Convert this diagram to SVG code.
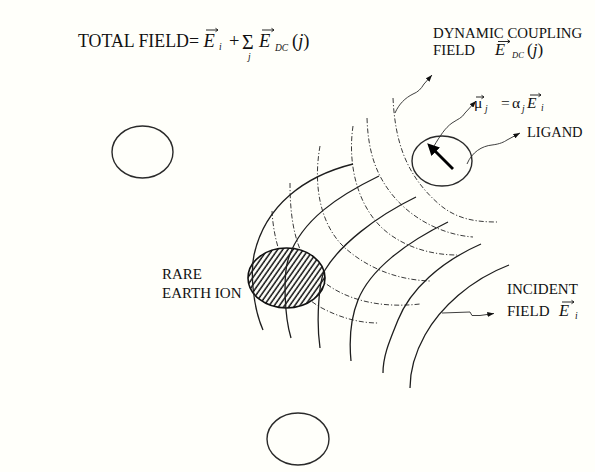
<svg xmlns="http://www.w3.org/2000/svg" width="595" height="472" viewBox="0 0 595 472">
<defs>
<style>
.bg{fill:#fffffa}
.t{font-family:"Liberation Serif","Times New Roman",serif;fill:#111}
.i{font-style:italic}
.solid{fill:none;stroke:#1e1e1e;stroke-width:1.3}
.dash{fill:none;stroke:#3a3a3a;stroke-width:1;stroke-dasharray:5 2 1.2 2}
.circ{fill:#fffffa;stroke:#2a2a2a;stroke-width:1.4}
.conn{fill:none;stroke:#2a2a2a;stroke-width:0.9}
.acc{fill:none;stroke:#111;stroke-width:0.9}
</style>
<marker id="ah" viewBox="0 0 8 6" refX="8" refY="3" markerWidth="7" markerHeight="5" markerUnits="userSpaceOnUse" orient="auto">
<path d="M0,0 L8,3 L0,6 z" fill="#111"/>
</marker>
<marker id="big" viewBox="0 0 10 10" refX="2" refY="5" markerWidth="12" markerHeight="12" markerUnits="userSpaceOnUse" orient="auto">
<path d="M0,0 L10,5 L0,10 z" fill="#000"/>
</marker>
<pattern id="hatch" patternUnits="userSpaceOnUse" width="4.2" height="10" patternTransform="rotate(35)">
<rect width="4.2" height="10" fill="#fffffa"/>
<line x1="1" y1="0" x2="1" y2="10" stroke="#111" stroke-width="1.5"/>
</pattern>
</defs>
<rect class="bg" x="0" y="0" width="595" height="472"/>

<g id="coupling-field">
<path class="dash" d="M393,98 C395,140 405,175 440,205 C457,219 475,222 497,222"/>
<path class="dash" d="M367,118 C368,150 375,175 395,198 C415,221 445,235 473,237"/>
<path class="dash" d="M353,126 C348,160 355,200 380,226 C400,246 430,255 457,255"/>
<path class="dash" d="M320,146 C313,185 320,225 345,248 C370,270 400,280 430,281"/>
<path class="dash" d="M290,183 C290,220 295,260 325,283 C350,302 385,308 420,304"/>
<path class="dash" d="M272,211 C274,250 290,290 320,307 C340,318 360,323 378,323"/>
</g>

<g id="node-rare-earth-ion">
<ellipse cx="286.5" cy="278" rx="38.5" ry="30" fill="url(#hatch)" stroke="#111" stroke-width="1.6"/>
</g>

<g id="incident-field">
<path class="solid" d="M353,164 C305,176 265,205 254,255 C250.7,270 252,305 263,330"/>
<path class="solid" d="M379,176 C340,195 300,220 288,260 C283.5,275 284,315 291,338"/>
<path class="solid" d="M416,197 C375,217 340,245 325,270 C319,280 316,320 320,348"/>
<path class="solid" d="M448,222 C405,243 370,270 358,300 C350,320 349,340 351,361"/>
<path class="solid" d="M481,244 C440,262 410,290 398,320 C390,340 383,355 383,373"/>
<path class="solid" d="M509,265 C470,280 440,308 425,335 C415,353 410,370 410,388"/>
</g>

<g id="node-ligand">
<ellipse class="circ" cx="442" cy="161" rx="30" ry="25"/>
<line x1="453" y1="169" x2="434" y2="150" stroke="#000" stroke-width="2.8" marker-end="url(#big)"/>
</g>

<g id="node-ion-left">
<ellipse class="circ" cx="142.5" cy="152" rx="30.5" ry="26"/>
</g>

<g id="node-ion-bottom">
<ellipse class="circ" cx="298" cy="439" rx="31" ry="26"/>
</g>

<g id="connectors">
<path class="conn" d="M442,313 L470,312 L472,315.5 L480,315.5 L494,313.5" marker-end="url(#ah)"/>
<path class="conn" d="M467,164 C472,152 482,146 492,145 C500,144 504,142 507,140 L520,133" marker-end="url(#ah)"/>
<path class="conn" d="M434,146 C440,136 445,128 452,123 C458,119 462,118 465,113 L476,101" marker-end="url(#ah)"/>
<path class="conn" d="M395,113 C399,104 405,98 413,94 C418,92 421,89 424,84 L432,75" marker-end="url(#ah)"/>
</g>

<g id="label-total">
<text class="t" font-size="18.5" x="78" y="47" textLength="121" lengthAdjust="spacingAndGlyphs">TOTAL FIELD=</text>
<text class="t" font-size="18.5" y="47"><tspan x="203.5" class="i">E</tspan><tspan x="219" y="50" font-size="9.5" class="i">i</tspan><tspan x="229" y="47">+</tspan><tspan x="242" y="49" font-size="20">Σ</tspan><tspan x="259" y="47" class="i">E</tspan><tspan x="275" y="51" font-size="9.5" class="i">DC</tspan><tspan x="292" y="47">(</tspan><tspan class="i">j</tspan><tspan>)</tspan></text>
<text class="t i" font-size="9.5" x="248" y="60">j</text>
</g>

<g id="label-dc">
<text class="t" font-size="14.8" x="433" y="38">DYNAMIC COUPLING</text>
<text class="t" font-size="14.8" y="55"><tspan x="433">FIELD</tspan><tspan x="495" class="i" font-size="16.5">E</tspan><tspan x="512" y="58" class="i" font-size="8.5">DC</tspan><tspan x="527" y="55" font-size="17">(</tspan><tspan class="i" font-size="17">j</tspan><tspan font-size="17">)</tspan></text>
</g>

<g id="label-mu">
<text class="t" font-size="15.5" y="108"><tspan x="474">μ</tspan><tspan x="485" y="112" class="i" font-size="9.5">j</tspan><tspan x="501" y="108">=</tspan><tspan x="512">α</tspan><tspan x="522" y="112" class="i" font-size="9.5">j</tspan><tspan x="527" y="108" class="i">E</tspan><tspan x="541" y="111" class="i" font-size="9.5">i</tspan></text>
</g>

<g id="label-ligand">
<text class="t" font-size="14.5" x="527" y="137">LIGAND</text>
</g>

<g id="label-ion">
<text class="t" font-size="15" x="162" y="279">RARE</text>
<text class="t" font-size="15" x="162" y="298">EARTH ION</text>
</g>

<g id="label-incident">
<text class="t" font-size="15" x="507" y="294">INCIDENT</text>
<text class="t" font-size="15" y="316"><tspan x="507">FIELD</tspan><tspan x="559" class="i" font-size="16.5">E</tspan><tspan x="575" y="319" class="i" font-size="9.5">i</tspan></text>
</g>

<g id="vector-accents">
<path class="acc" d="M206,30 H218 M215.5,28.3 L218,30 L215.5,31.7"/>
<path class="acc" d="M262,30 H274 M271.5,28.3 L274,30 L271.5,31.7"/>
<path class="acc" d="M498,41.5 H510 M507.5,39.8 L510,41.5 L507.5,43.2"/>
<path class="acc" d="M476,97 H484 M481.5,95.3 L484,97 L481.5,98.7"/>
<path class="acc" d="M530,95 H541 M538.5,93.3 L541,95 L538.5,96.7"/>
<path class="acc" d="M562,302 H574 M571.5,300.3 L574,302 L571.5,303.7"/>
</g>
</svg>
